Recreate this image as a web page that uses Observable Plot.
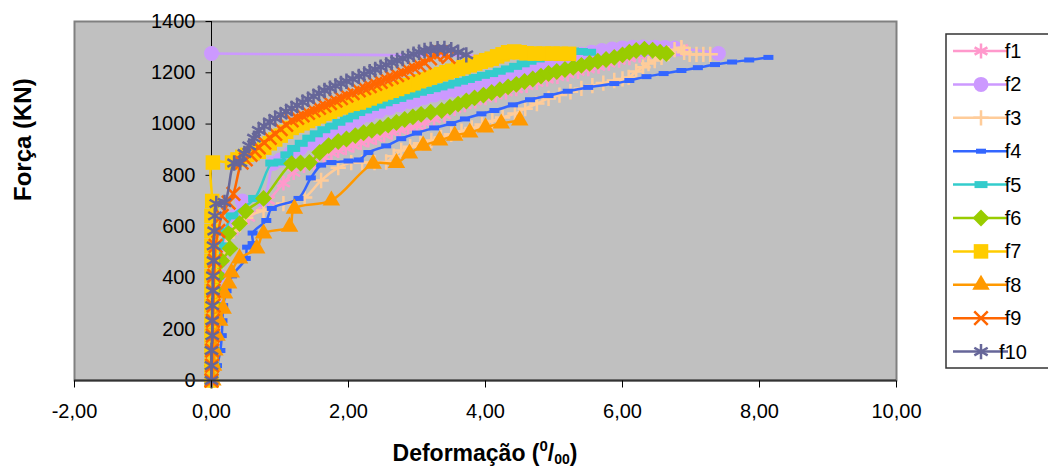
<!DOCTYPE html>
<html><head><meta charset="utf-8">
<script src="https://cdn.jsdelivr.net/npm/d3@7"></script>
<script src="https://cdn.jsdelivr.net/npm/@observablehq/plot@0.6"></script>
<style>body{margin:0;background:#fff;}</style>
</head><body><div id="chart"></div>
<script>
// ---- Data: [strain (‰), force (kN)] ----
const f1 = [[0,0],[0.02,58],[0.03,117],[0.05,175],[0.06,233],[0.08,292],[0.1,350],[0.12,408],[0.15,467],[0.2,525],[0.3,583],[0.54,636],[0.83,702],[1.05,770],[1.2,811],[1.35,838],[1.5,848],[1.64,872],[1.75,888],[1.85,897],[1.96,907],[2.07,917],[2.18,927],[2.29,937],[2.4,947],[2.52,958],[2.63,968],[2.75,977],[2.87,985],[3.0,994],[3.11,1005],[3.25,1020],[3.4,1035],[3.55,1060],[3.7,1075],[3.85,1090],[4.0,1102],[4.15,1113],[4.3,1125],[4.45,1137],[4.6,1150],[4.75,1162],[4.9,1175],[5.05,1185],[5.2,1195],[5.35,1205],[5.5,1215],[5.65,1225],[5.8,1237],[5.95,1248],[6.1,1258],[6.25,1268],[6.4,1277],[6.55,1285],[6.7,1291],[6.86,1295]];
const f2 = [[0,0],[0.02,58],[0.03,117],[0.04,175],[0.05,233],[0.06,292],[0.08,350],[0.1,408],[0.13,467],[0.18,525],[0.25,583],[0.35,642],[0.45,700],[0.75,705],[0.9,846],[1.0,860],[1.15,885],[1.3,905],[1.45,925],[1.6,945],[1.75,962],[1.9,980],[2.03,998],[2.15,1018],[2.3,1035],[2.45,1050],[2.6,1063],[2.75,1075],[2.9,1087],[3.0,1095],[3.11,1104],[3.25,1113],[3.4,1122],[3.55,1132],[3.7,1141],[3.85,1150],[4.0,1158],[4.09,1162],[4.25,1175],[4.4,1190],[4.55,1205],[4.7,1220],[4.85,1235],[5.0,1248],[5.11,1255],[5.25,1265],[5.4,1272],[5.55,1280],[5.7,1287],[5.85,1293],[6.0,1297],[6.15,1300],[6.3,1301],[6.47,1300],[6.62,1299],[6.76,1297],[7.4,1275],[0,1275]];
const f3 = [[0,0],[0.02,58],[0.03,117],[0.04,175],[0.05,233],[0.07,292],[0.09,350],[0.12,408],[0.16,467],[0.22,525],[0.32,583],[0.5,635],[0.76,663],[1.05,690],[1.36,714],[1.6,780],[1.85,830],[2.04,850],[2.2,850],[2.38,850],[2.55,852],[2.66,875],[2.77,897],[2.9,912],[3.05,925],[3.21,936],[3.35,948],[3.5,960],[3.65,972],[3.8,985],[3.95,998],[4.1,1012],[4.25,1026],[4.43,1041],[4.58,1060],[4.75,1080],[4.92,1100],[5.08,1113],[5.24,1126],[5.4,1139],[5.56,1150],[5.72,1160],[5.88,1170],[6.0,1176],[6.09,1182],[6.2,1205],[6.3,1222],[6.38,1236],[6.47,1248],[6.57,1260],[6.67,1275],[6.76,1290],[6.86,1298],[6.9,1280],[6.98,1272],[7.08,1272],[7.18,1272],[7.28,1272]];
const f4 = [[0,0],[0.08,58],[0.13,117],[0.15,175],[0.16,233],[0.17,292],[0.22,350],[0.3,408],[0.5,476],[0.52,520],[0.6,534],[0.6,575],[0.8,624],[0.88,671],[1.27,710],[1.45,790],[1.6,840],[1.75,850],[2.0,856],[2.15,860],[2.29,889],[2.55,915],[2.77,943],[3.0,965],[3.25,985],[3.5,1002],[3.7,1020],[3.94,1040],[4.13,1053],[4.4,1075],[4.65,1095],[4.92,1111],[5.2,1128],[5.5,1143],[5.88,1158],[6.1,1170],[6.35,1185],[6.6,1197],[6.86,1209],[7.1,1220],[7.35,1232],[7.6,1242],[7.85,1250],[8.13,1260]];
const f5 = [[0,0],[0.02,58],[0.03,117],[0.04,175],[0.05,233],[0.06,292],[0.07,350],[0.09,408],[0.11,467],[0.15,525],[0.2,583],[0.3,642],[0.63,710],[0.88,848],[1.0,852],[1.1,880],[1.2,905],[1.31,925],[1.42,945],[1.53,962],[1.64,978],[1.75,992],[1.86,1007],[1.97,1020],[2.06,1032],[2.15,1045],[2.25,1055],[2.35,1065],[2.45,1074],[2.55,1083],[2.65,1092],[2.75,1100],[2.85,1109],[2.95,1116],[3.05,1124],[3.15,1131],[3.25,1138],[3.35,1145],[3.45,1152],[3.55,1160],[3.65,1167],[3.75,1174],[3.85,1182],[3.97,1190],[4.09,1197],[4.2,1206],[4.32,1215],[4.44,1225],[4.55,1235],[4.65,1245],[4.77,1254],[4.9,1262],[5.02,1270],[5.15,1278],[5.27,1285],[5.4,1283],[5.52,1280]];
const f6 = [[0,0],[0.01,58],[0.02,117],[0.03,175],[0.04,233],[0.05,292],[0.07,350],[0.1,408],[0.15,467],[0.27,515],[0.25,573],[0.41,612],[0.5,660],[0.76,710],[1.17,846],[1.3,848],[1.43,850],[1.58,889],[1.71,916],[1.85,932],[1.97,942],[2.1,955],[2.22,966],[2.34,976],[2.46,986],[2.58,996],[2.7,1006],[2.82,1018],[2.94,1028],[3.06,1038],[3.2,1046],[3.36,1053],[3.48,1066],[3.6,1078],[3.72,1090],[3.84,1102],[3.97,1113],[4.09,1123],[4.21,1134],[4.33,1145],[4.45,1155],[4.57,1166],[4.69,1176],[4.81,1187],[4.92,1197],[5.04,1205],[5.16,1213],[5.28,1221],[5.4,1229],[5.52,1237],[5.64,1245],[5.76,1252],[5.88,1260],[6.0,1270],[6.1,1280],[6.2,1287],[6.32,1292],[6.44,1288],[6.55,1280],[6.64,1275]];
const f7 = [[0,0],[0,58],[0,117],[0,175],[0,233],[0,292],[0,350],[0,408],[0,467],[0,525],[0,583],[0,642],[0.01,700],[0.02,850],[0.3,850],[0.38,862],[0.45,872],[0.52,880],[0.6,886],[0.69,892],[0.77,908],[0.85,925],[0.93,940],[1.01,955],[1.09,970],[1.17,985],[1.25,994],[1.33,1003],[1.41,1012],[1.49,1021],[1.57,1030],[1.65,1040],[1.73,1048],[1.81,1057],[1.89,1065],[1.97,1073],[2.06,1079],[2.15,1084],[2.23,1092],[2.31,1100],[2.39,1108],[2.47,1116],[2.55,1123],[2.63,1130],[2.71,1137],[2.79,1145],[2.87,1152],[2.95,1159],[3.03,1167],[3.11,1174],[3.19,1181],[3.27,1188],[3.35,1195],[3.43,1202],[3.51,1208],[3.6,1215],[3.68,1222],[3.77,1229],[3.85,1236],[3.93,1243],[4.01,1249],[4.09,1255],[4.17,1264],[4.25,1272],[4.33,1280],[4.42,1283],[4.5,1280],[4.6,1276],[4.72,1275],[4.85,1275],[4.98,1275],[5.1,1274],[5.22,1274]];
const f8 = [[0.02,0],[0.03,58],[0.05,117],[0.08,175],[0.12,233],[0.17,280],[0.19,339],[0.25,378],[0.29,421],[0.41,476],[0.66,515],[0.76,573],[1.14,600],[1.21,670],[1.75,702],[2.36,845],[2.7,848],[2.89,885],[3.09,916],[3.33,936],[3.55,955],[3.77,967],[4.0,987],[4.23,1002],[4.5,1014]];
const f9 = [[0,0],[0.01,58],[0.01,117],[0.02,175],[0.02,233],[0.03,292],[0.03,350],[0.04,408],[0.05,467],[0.06,525],[0.1,583],[0.15,642],[0.25,694],[0.32,728],[0.44,850],[0.5,862],[0.57,880],[0.63,895],[0.69,909],[0.77,928],[0.85,946],[0.93,962],[1.01,980],[1.09,997],[1.17,1014],[1.25,1024],[1.33,1034],[1.41,1044],[1.49,1053],[1.57,1063],[1.65,1072],[1.73,1082],[1.81,1091],[1.89,1101],[1.97,1111],[2.06,1121],[2.15,1131],[2.23,1140],[2.31,1148],[2.39,1157],[2.47,1165],[2.55,1174],[2.63,1182],[2.71,1191],[2.79,1201],[2.87,1211],[2.95,1220],[3.03,1230],[3.11,1240],[3.19,1256],[3.27,1270],[3.35,1280],[3.42,1272],[3.46,1262]];
const f10 = [[0,0],[0,58],[0,117],[0.01,175],[0.01,233],[0.01,292],[0.02,350],[0.02,408],[0.03,467],[0.03,525],[0.04,583],[0.05,642],[0.07,690],[0.19,694],[0.33,848],[0.42,850],[0.48,885],[0.55,915],[0.62,945],[0.69,975],[0.77,992],[0.85,1008],[0.93,1022],[1.01,1036],[1.09,1049],[1.17,1061],[1.25,1073],[1.33,1085],[1.41,1097],[1.49,1108],[1.57,1120],[1.65,1131],[1.73,1140],[1.81,1149],[1.89,1158],[1.97,1167],[2.06,1176],[2.15,1186],[2.23,1195],[2.31,1204],[2.39,1213],[2.47,1222],[2.55,1231],[2.63,1240],[2.71,1248],[2.79,1256],[2.87,1264],[2.95,1272],[3.03,1280],[3.11,1287],[3.2,1291],[3.3,1294],[3.4,1295],[3.5,1290],[3.6,1280],[3.72,1270]];

const seriesNames = ["f1","f2","f3","f4","f5","f6","f7","f8","f9","f10"];
const seriesColors = ["#FF99CC","#CC99FF","#FFCC99","#3366FF","#33CCCC","#99CC00","#FFCC00","#FF9900","#FF6600","#666699"];
const seriesData = [f1,f2,f3,f4,f5,f6,f7,f8,f9,f10];

const yTickValues = [0,200,400,600,800,1000,1200,1400];
const xTickValues = [-2,0,2,4,6,8,10];
const xTickLabels = ["-2,00","0,00","2,00","4,00","6,00","8,00","10,00"];

// ---- Marker shapes ----
const rectSmall = {draw(ctx){ ctx.rect(-5,-2.5,10,5); }};
const rectWide = {draw(ctx){ ctx.rect(-6.5,-3.5,13,7); }};
const tickLeft = {draw(ctx){ ctx.moveTo(-6,0); ctx.lineTo(0,0); }};
const tickDown = {draw(ctx){ ctx.moveTo(0,0); ctx.lineTo(0,7); }};
const markers = [
  {symbol: d3.symbolAsterisk, r: 7, stroke: true},
  {symbol: d3.symbolCircle, r: 7.5, stroke: false},
  {symbol: d3.symbolPlus, r: 5, stroke: true},
  {symbol: rectSmall, r: 4, stroke: false},
  {symbol: rectWide, r: 4, stroke: false},
  {symbol: d3.symbolDiamond2, r: 7.6, stroke: false},
  {symbol: d3.symbolSquare, r: 8.2, stroke: false},
  {symbol: d3.symbolTriangle, r: 6.5, stroke: false},
  {symbol: d3.symbolTimes, r: 6.2, stroke: true},
  {symbol: d3.symbolAsterisk, r: 7.3, stroke: true}
];

const FONT = "'Liberation Sans', Arial, sans-serif";

const seriesMarks = seriesData.flatMap((data, i) => {
  const m = markers[i], c = seriesColors[i];
  return [
    Plot.line(data, {x: d => d[0], y: d => d[1], stroke: c, strokeWidth: 2.5, curve: "catmull-rom"}),
    Plot.dot(data, {x: d => d[0], y: d => d[1], symbol: m.symbol, r: m.r,
      fill: m.stroke ? "none" : c, stroke: m.stroke ? c : "none", strokeWidth: 2.5})
  ];
});

const plot = Plot.plot({
  width: 1048, height: 468,
  marginLeft: 74, marginRight: 152, marginTop: 21, marginBottom: 88,
  x: {domain: [-2, 10], axis: null},
  y: {domain: [0, 1400], axis: null},
  style: {fontFamily: FONT, background: "#fff", overflow: "visible"},
  marks: [
    Plot.frame({fill: "#C0C0C0", stroke: "#808080", strokeWidth: 2}),
    Plot.ruleX([0], {y1: 0, y2: 1400, stroke: "#000", strokeWidth: 1}),
    Plot.dot(yTickValues, {x: 0, y: d => d, symbol: tickLeft, r: 3, stroke: "#000", fill: "none", strokeWidth: 1}),
    Plot.text(yTickValues, {x: 0, y: d => d, text: d => String(d), textAnchor: "end", dx: -16, fontSize: 20, fill: "#000"}),
    ...seriesMarks,
    Plot.ruleY([0], {stroke: "#333", strokeWidth: 2}),
    Plot.dot(xTickValues, {x: d => d, y: 0, symbol: tickDown, r: 3, stroke: "#000", fill: "none", strokeWidth: 1}),
    Plot.text(xTickValues, {x: d => d, y: 0, text: (d, i) => xTickLabels[i], dy: 31, fontSize: 20, fill: "#000"}),
    Plot.text(["Força (KN)"], {frameAnchor: "left", dx: -51, rotate: -90, fontSize: 24, fontWeight: "bold", fill: "#000"})
  ]
});
document.getElementById("chart").appendChild(plot);

// ---- x-axis title with super/subscript ----
const svg = d3.select(plot);
const t = svg.append("text").attr("x", 485).attr("y", 461).attr("text-anchor", "middle")
  .attr("font-family", FONT).attr("font-weight", "bold").attr("font-size", 23).attr("fill", "#000");
t.append("tspan").text("Deformação (");
t.append("tspan").attr("font-size", 15).attr("dy", -10).text("0");
t.append("tspan").attr("font-size", 23).attr("dy", 10).text("/");
t.append("tspan").attr("font-size", 14).attr("dy", 3).text("00");
t.append("tspan").attr("font-size", 23).attr("dy", -3).text(")");

// ---- legend ----
const lg = svg.append("g").attr("font-family", FONT).attr("font-size", 20);
lg.append("rect").attr("x", 946).attr("y", 34).attr("width", 130).attr("height", 334)
  .attr("fill", "#fff").attr("stroke", "#333").attr("stroke-width", 1.5);
seriesNames.forEach((name, i) => {
  const cy = 51 + i * 33.4, m = markers[i], c = seriesColors[i];
  lg.append("line").attr("x1", 953).attr("x2", 1008).attr("y1", cy).attr("y2", cy)
    .attr("stroke", c).attr("stroke-width", 2.5);
  lg.append("path").attr("transform", `translate(981,${cy})`)
    .attr("d", d3.symbol(m.symbol, Math.PI * m.r * m.r)())
    .attr("fill", m.stroke ? "none" : c).attr("stroke", m.stroke ? c : "none").attr("stroke-width", 2.5);
  lg.append("text").attr("x", 1013).attr("y", cy).attr("dy", "0.35em").attr("fill", "#000").text(name);
});
</script>
</body></html>
